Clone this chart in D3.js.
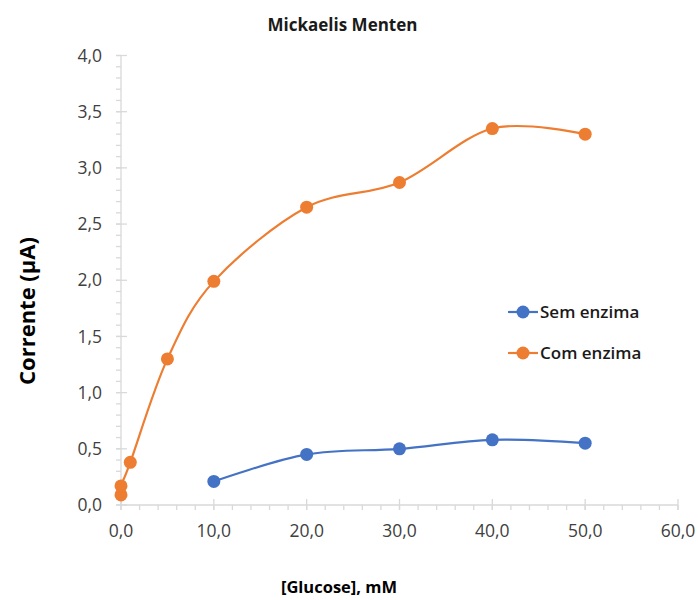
<!DOCTYPE html>
<html>
<head>
<meta charset="utf-8">
<script src="https://cdn.jsdelivr.net/npm/d3@7"></script>
<style>
  body { margin: 0; background: #fff; }
  svg { display: block; }
  text { font-family: "Open Sans", "Noto Sans", sans-serif; }
</style>
</head>
<body>
<svg id="chart" width="698" height="600"></svg>
<script>
// Glucose concentration (mM) and measured current (µA)
const semEnzimaX = [10, 20, 30, 40, 50];
const semEnzimaY = [0.21, 0.45, 0.50, 0.58, 0.55];
const comEnzimaX = [0, 0, 1, 5, 10, 20, 30, 40, 50];
const comEnzimaY = [0.09, 0.17, 0.38, 1.30, 1.99, 2.65, 2.87, 3.35, 3.30];
const xTicks = [0, 10, 20, 30, 40, 50, 60];
const yTicks = [0, 0.5, 1, 1.5, 2, 2.5, 3, 3.5, 4];
const seriesNames = ["Sem enzima", "Com enzima"];
const seriesColors = ["#4472C4", "#ED7D31"];

const svg = d3.select("#chart");
const plot = { left: 121, right: 678, top: 55.5, bottom: 505 };

const x = d3.scaleLinear().domain([0, 60]).range([plot.left, plot.right]);
const y = d3.scaleLinear().domain([0, 4]).range([plot.bottom, plot.top]);
const fmt = v => d3.format(".1f")(v).replace(".", ",");
const axisColor = "#d9d9d9";
const tickText = "#404040";

// Axes: major ticks cross the line, minor ticks sit outside
const gx = svg.append("g").attr("transform", `translate(0,${plot.bottom})`);
gx.append("line").attr("x1", plot.left).attr("x2", plot.right).attr("stroke", axisColor).attr("stroke-width", 1.3);
gx.selectAll(".minor").data(d3.range(0, 60.01, 2)).join("line")
  .attr("x1", d => x(d)).attr("x2", d => x(d)).attr("y1", 0).attr("y2", 5)
  .attr("stroke", axisColor).attr("stroke-width", 1.3);
gx.selectAll(".major").data(xTicks).join("line")
  .attr("x1", d => x(d)).attr("x2", d => x(d)).attr("y1", -6).attr("y2", 5)
  .attr("stroke", axisColor).attr("stroke-width", 1.3);
gx.selectAll("text").data(xTicks).join("text")
  .attr("x", d => x(d)).attr("y", 32).attr("text-anchor", "middle")
  .attr("font-size", 17.5).attr("fill", tickText).text(fmt);

const gy = svg.append("g").attr("transform", `translate(${plot.left},0)`);
gy.append("line").attr("y1", plot.top).attr("y2", plot.bottom).attr("stroke", axisColor).attr("stroke-width", 1.3);
gy.selectAll(".minor").data(d3.range(0, 4.001, 0.1)).join("line")
  .attr("y1", d => y(d)).attr("y2", d => y(d)).attr("x1", -5).attr("x2", 0)
  .attr("stroke", axisColor).attr("stroke-width", 1.3);
gy.selectAll(".major").data(yTicks).join("line")
  .attr("y1", d => y(d)).attr("y2", d => y(d)).attr("x1", -5).attr("x2", 6)
  .attr("stroke", axisColor).attr("stroke-width", 1.3);
gy.selectAll("text").data(yTicks).join("text")
  .attr("x", -19).attr("y", d => y(d)).attr("dy", "0.35em").attr("text-anchor", "end")
  .attr("font-size", 17.5).attr("fill", tickText).text(fmt);

// Smoothed series lines with markers
const line = d3.line().x(d => x(d[0])).y(d => y(d[1])).curve(d3.curveCardinal.tension(0));
const series = [
  d3.zip(semEnzimaX, semEnzimaY),
  d3.zip(comEnzimaX, comEnzimaY)
];
series.forEach((pts, i) => {
  svg.append("path").datum(pts).attr("d", line)
    .attr("fill", "none").attr("stroke", seriesColors[i]).attr("stroke-width", 2.2);
  svg.append("g").selectAll("circle").data(pts).join("circle")
    .attr("cx", d => x(d[0])).attr("cy", d => y(d[1])).attr("r", 6.5)
    .attr("fill", seriesColors[i]);
});

// Legend
const legend = svg.append("g");
seriesNames.forEach((name, i) => {
  const ly = 312 + i * 41;
  legend.append("line").attr("x1", 508).attr("x2", 538).attr("y1", ly).attr("y2", ly)
    .attr("stroke", seriesColors[i]).attr("stroke-width", 2.2);
  legend.append("circle").attr("cx", 523).attr("cy", ly).attr("r", 6.5).attr("fill", seriesColors[i]);
  legend.append("text").attr("x", 540).attr("y", ly).attr("dy", "0.35em")
    .attr("font-size", 17).attr("font-weight", 600).attr("fill", "#1a1a1a").text(name);
});

// Titles
svg.append("text").attr("x", 342.5).attr("y", 31).attr("text-anchor", "middle")
  .attr("font-size", 17).attr("font-weight", 700).attr("fill", "#1a1a1a").text("Mickaelis Menten");
svg.append("text").attr("transform", "translate(35,311) rotate(-90)").attr("text-anchor", "middle")
  .attr("font-size", 22).attr("font-weight", 700).attr("fill", "#000").text("Corrente (µA)");
svg.append("text").attr("x", 339).attr("y", 593).attr("text-anchor", "middle")
  .attr("font-size", 16.5).attr("font-weight", 700).attr("fill", "#000").text("[Glucose], mM");
</script>
</body>
</html>
